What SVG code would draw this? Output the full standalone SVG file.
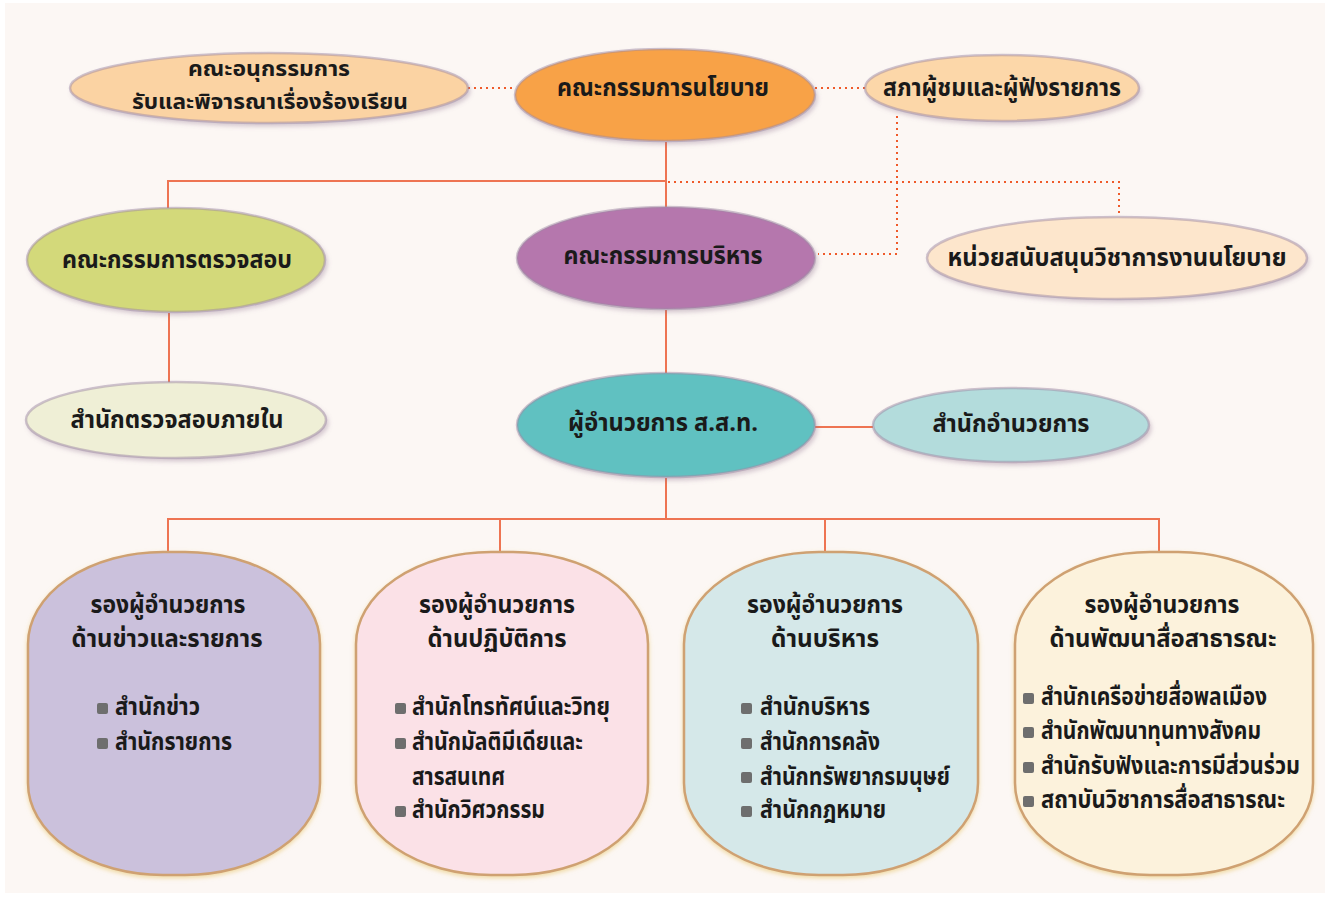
<svg xmlns="http://www.w3.org/2000/svg" width="1330" height="898" viewBox="0 0 1330 898">
<defs>
<style>
text{font-family:"Noto Sans Thai","Noto Sans Thai UI","Tahoma","Loma","Noto Sans","DejaVu Sans",sans-serif;font-weight:bold;font-size:24px;fill:#1a1a1a;text-anchor:middle}
.l{text-anchor:start}
.sm{font-size:21px}
.ell{stroke:#a08ca6;stroke-opacity:.5;stroke-width:2.5;filter:url(#sh)}
.box{stroke:#cfa172;stroke-width:2.5;filter:url(#sh2)}
.solid{stroke:#ee7452;stroke-width:2;fill:none}
.dot{stroke:#ef5a2a;stroke-width:2;fill:none;stroke-dasharray:2 4}
.bul{fill:#6e6e6e}
</style>
<filter id="sh" x="-10%" y="-20%" width="120%" height="150%">
<feDropShadow dx="2" dy="3" stdDeviation="2" flood-color="#8a6f8a" flood-opacity=".35"/>
</filter>
<filter id="sh2" x="-10%" y="-10%" width="120%" height="120%">
<feDropShadow dx="0" dy="2" stdDeviation="2" flood-color="#e8c870" flood-opacity=".6"/>
</filter>
</defs>
<rect width="1330" height="898" fill="#ffffff"/>
<rect x="5" y="3" width="1320" height="890" fill="#fcf7f4"/>

<g id="connectors">
<line class="dot" x1="468" y1="88" x2="516" y2="88"/>
<line class="dot" x1="815" y1="88" x2="865" y2="88"/>
<polyline class="solid" points="666,142 666,207"/>
<polyline class="solid" points="666,181 168,181 168,208"/>
<polyline class="dot" points="668,182 1119,182 1119,215"/>
<polyline class="dot" points="897,116 897,254 818,254"/>
<line class="solid" x1="169" y1="313" x2="169" y2="383"/>
<line class="solid" x1="666" y1="310" x2="666" y2="373"/>
<line class="solid" x1="815" y1="427" x2="873" y2="427"/>
<line class="solid" x1="666" y1="478" x2="666" y2="519"/>
<polyline class="solid" points="168,552 168,519 1159,519 1159,552"/>
<line class="solid" x1="500" y1="519" x2="500" y2="552"/>
<line class="solid" x1="825" y1="519" x2="825" y2="552"/>
</g>

<g id="n-complaints">
<ellipse class="ell" cx="269" cy="88" rx="199" ry="35" fill="#fbd3a3"/>
<text class="sm" x="269" y="76" textLength="162" lengthAdjust="spacingAndGlyphs">คณะอนุกรรมการ</text>
<text class="sm" x="270" y="109" textLength="276" lengthAdjust="spacingAndGlyphs">รับและพิจารณาเรื่องร้องเรียน</text>
</g>

<g id="n-policy">
<ellipse class="ell" cx="665" cy="95" rx="150" ry="46" fill="#f8a246"/>
<text x="663" y="96" textLength="212" lengthAdjust="spacingAndGlyphs">คณะกรรมการนโยบาย</text>
</g>

<g id="n-council">
<ellipse class="ell" cx="1002" cy="88" rx="137" ry="33" fill="#fcd7a9"/>
<text x="1002" y="96" textLength="238" lengthAdjust="spacingAndGlyphs">สภาผู้ชมและผู้ฟังรายการ</text>
</g>

<g id="n-audit-board">
<ellipse class="ell" cx="176" cy="260" rx="149" ry="52" fill="#d3d97a"/>
<text x="177" y="268" textLength="230" lengthAdjust="spacingAndGlyphs">คณะกรรมการตรวจสอบ</text>
</g>

<g id="n-exec-board">
<ellipse class="ell" cx="666" cy="258" rx="149" ry="51" fill="#b577ad"/>
<text x="663" y="264" textLength="199" lengthAdjust="spacingAndGlyphs">คณะกรรมการบริหาร</text>
</g>

<g id="n-policy-support">
<ellipse class="ell" cx="1117" cy="258" rx="190" ry="41" fill="#fde6cc"/>
<text x="1117" y="266" textLength="339" lengthAdjust="spacingAndGlyphs">หน่วยสนับสนุนวิชาการงานนโยบาย</text>
</g>

<g id="n-internal-audit">
<ellipse class="ell" cx="176" cy="420" rx="150" ry="38" fill="#efefd6"/>
<text x="177" y="428" textLength="213" lengthAdjust="spacingAndGlyphs">สำนักตรวจสอบภายใน</text>
</g>

<g id="n-director">
<ellipse class="ell" cx="666" cy="425" rx="149" ry="52" fill="#60c1c1"/>
<text x="663" y="431" textLength="190" lengthAdjust="spacingAndGlyphs">ผู้อำนวยการ ส.ส.ท.</text>
</g>

<g id="n-director-office">
<ellipse class="ell" cx="1011" cy="425" rx="138" ry="37" fill="#b3dcdc"/>
<text x="1011" y="432" textLength="157" lengthAdjust="spacingAndGlyphs">สำนักอำนวยการ</text>
</g>

<g id="n-news">
<rect class="box" x="28" y="552" width="292" height="323" rx="135" ry="92" fill="#cbc1dc"/>
<text x="168" y="613" textLength="155" lengthAdjust="spacingAndGlyphs">รองผู้อำนวยการ</text>
<text x="167" y="647" textLength="191" lengthAdjust="spacingAndGlyphs">ด้านข่าวและรายการ</text>
<rect class="bul" x="97" y="703" width="11" height="11" rx="2"/>
<text class="l" x="115" y="715" textLength="85" lengthAdjust="spacingAndGlyphs">สำนักข่าว</text>
<rect class="bul" x="97" y="738" width="11" height="11" rx="2"/>
<text class="l" x="115" y="750" textLength="117" lengthAdjust="spacingAndGlyphs">สำนักรายการ</text>
</g>

<g id="n-operations">
<rect class="box" x="356" y="552" width="292" height="323" rx="135" ry="92" fill="#fbe1e7"/>
<text x="497" y="613" textLength="156" lengthAdjust="spacingAndGlyphs">รองผู้อำนวยการ</text>
<text x="497" y="647" textLength="139" lengthAdjust="spacingAndGlyphs">ด้านปฏิบัติการ</text>
<rect class="bul" x="395" y="703" width="11" height="11" rx="2"/>
<text class="l" x="412" y="715" textLength="198" lengthAdjust="spacingAndGlyphs">สำนักโทรทัศน์และวิทยุ</text>
<rect class="bul" x="395" y="738" width="11" height="11" rx="2"/>
<text class="l" x="412" y="750" textLength="171" lengthAdjust="spacingAndGlyphs">สำนักมัลติมีเดียและ</text>
<text class="l" x="412" y="785" textLength="93" lengthAdjust="spacingAndGlyphs">สารสนเทศ</text>
<rect class="bul" x="395" y="806" width="11" height="11" rx="2"/>
<text class="l" x="412" y="818" textLength="133" lengthAdjust="spacingAndGlyphs">สำนักวิศวกรรม</text>
</g>

<g id="n-admin">
<rect class="box" x="684" y="552" width="294" height="323" rx="135" ry="92" fill="#d5e8e9"/>
<text x="825" y="613" textLength="156" lengthAdjust="spacingAndGlyphs">รองผู้อำนวยการ</text>
<text x="825" y="647" textLength="108" lengthAdjust="spacingAndGlyphs">ด้านบริหาร</text>
<rect class="bul" x="741" y="703" width="11" height="11" rx="2"/>
<text class="l" x="760" y="715" textLength="110" lengthAdjust="spacingAndGlyphs">สำนักบริหาร</text>
<rect class="bul" x="741" y="738" width="11" height="11" rx="2"/>
<text class="l" x="760" y="750" textLength="120" lengthAdjust="spacingAndGlyphs">สำนักการคลัง</text>
<rect class="bul" x="741" y="772" width="11" height="11" rx="2"/>
<text class="l" x="760" y="785" textLength="190" lengthAdjust="spacingAndGlyphs">สำนักทรัพยากรมนุษย์</text>
<rect class="bul" x="741" y="806" width="11" height="11" rx="2"/>
<text class="l" x="760" y="818" textLength="126" lengthAdjust="spacingAndGlyphs">สำนักกฎหมาย</text>
</g>

<g id="n-public-media">
<rect class="box" x="1015" y="552" width="298" height="323" rx="135" ry="92" fill="#fcf2dc"/>
<text x="1162" y="613" textLength="155" lengthAdjust="spacingAndGlyphs">รองผู้อำนวยการ</text>
<text x="1163" y="647" textLength="227" lengthAdjust="spacingAndGlyphs">ด้านพัฒนาสื่อสาธารณะ</text>
<rect class="bul" x="1023" y="693" width="11" height="11" rx="2"/>
<text class="l" x="1041" y="705" textLength="226" lengthAdjust="spacingAndGlyphs">สำนักเครือข่ายสื่อพลเมือง</text>
<rect class="bul" x="1023" y="727" width="11" height="11" rx="2"/>
<text class="l" x="1041" y="739" textLength="220" lengthAdjust="spacingAndGlyphs">สำนักพัฒนาทุนทางสังคม</text>
<rect class="bul" x="1023" y="762" width="11" height="11" rx="2"/>
<text class="l" x="1041" y="774" textLength="259" lengthAdjust="spacingAndGlyphs">สำนักรับฟังและการมีส่วนร่วม</text>
<rect class="bul" x="1023" y="796" width="11" height="11" rx="2"/>
<text class="l" x="1041" y="808" textLength="244" lengthAdjust="spacingAndGlyphs">สถาบันวิชาการสื่อสาธารณะ</text>
</g>
</svg>
